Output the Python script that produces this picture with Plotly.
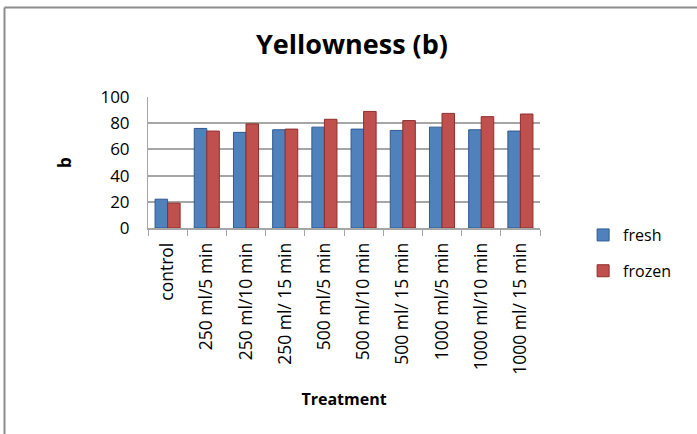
import plotly.graph_objects as go

treatments = ["control", "250 ml/5 min", "250 ml/10 min", "250 ml/ 15 min",
              "500 ml/5 min", "500 ml/10 min", "500 ml/ 15 min",
              "1000 ml/5 min", "1000 ml/10 min", "1000 ml/ 15 min"]
fresh = [22, 76, 73, 75, 77, 75.5, 74.5, 77, 75, 74]
frozen = [19, 74, 79.5, 75.5, 83, 89, 82, 87.5, 85, 87]

W, H = 697, 434
ML, MR, MT, MB = 148, 157, 97, 206
PW, PH = W - ML - MR, H - MT - MB

FONT = "Open Sans"

fig = go.Figure()
fig.add_trace(go.Bar(name="fresh", x=treatments, y=fresh, legendgroup="fresh",
                     marker=dict(color="#4F81BD", line=dict(color="#2E5B91", width=1))))
fig.add_trace(go.Bar(name="frozen", x=treatments, y=frozen, legendgroup="frozen",
                     marker=dict(color="#C0504D", line=dict(color="#8E2F2C", width=1))))

def px_x(p):
    return (p - ML) / PW

def px_y(p):
    return (H - MB - p) / PH

# chart frame: top and left edges
fig.add_shape(type="line", xref="paper", yref="paper",
              x0=px_x(4.5), x1=px_x(697), y0=px_y(7.5), y1=px_y(7.5),
              line=dict(color="#8C8C8C", width=2))
fig.add_shape(type="line", xref="paper", yref="paper",
              x0=px_x(4.5), x1=px_x(4.5), y0=px_y(7.5), y1=px_y(434),
              line=dict(color="#8C8C8C", width=2))

fig.update_layout(
    width=W, height=H,
    margin=dict(l=ML, r=MR, t=MT, b=MB),
    paper_bgcolor="white", plot_bgcolor="white",
    barmode="group", bargap=0.36, bargroupgap=0.0,
    title=dict(text="<b>Yellowness (b)</b>", x=0.505, xanchor="center",
               y=1 - 45 / H, yanchor="middle",
               font=dict(family=FONT, size=27, color="black")),
    font=dict(family=FONT, color="black"),
    legend=dict(x=1.11, y=0.076, xanchor="left", yanchor="top",
                font=dict(family=FONT, size=16, color="black"),
                tracegroupgap=12, itemwidth=30, bgcolor="rgba(0,0,0,0)"),
    showlegend=True,
)
fig.update_yaxes(range=[0, 100], dtick=20, showgrid=True, gridcolor="#A6A6A6",
                 gridwidth=1.5, showline=True, linecolor="#A6A6A6", linewidth=1,
                 ticks="", tickfont=dict(size=17, family=FONT),
                 ticklabelstandoff=14,
                 title=dict(text="<b>b</b>", font=dict(size=17, family=FONT), standoff=24),
                 zeroline=False, mirror=False)
fig.update_xaxes(showline=True, linecolor="#A6A6A6", linewidth=1.5,
                 ticks="outside", tickson="boundaries", ticklen=6, tickcolor="#A6A6A6",
                 tickangle=-90, tickfont=dict(size=17.5, family=FONT),
                 ticklabelstandoff=6,
                 title=dict(text="<b>Treatment</b>", font=dict(size=16, family=FONT), standoff=20))

fig.write_html("out.html")
